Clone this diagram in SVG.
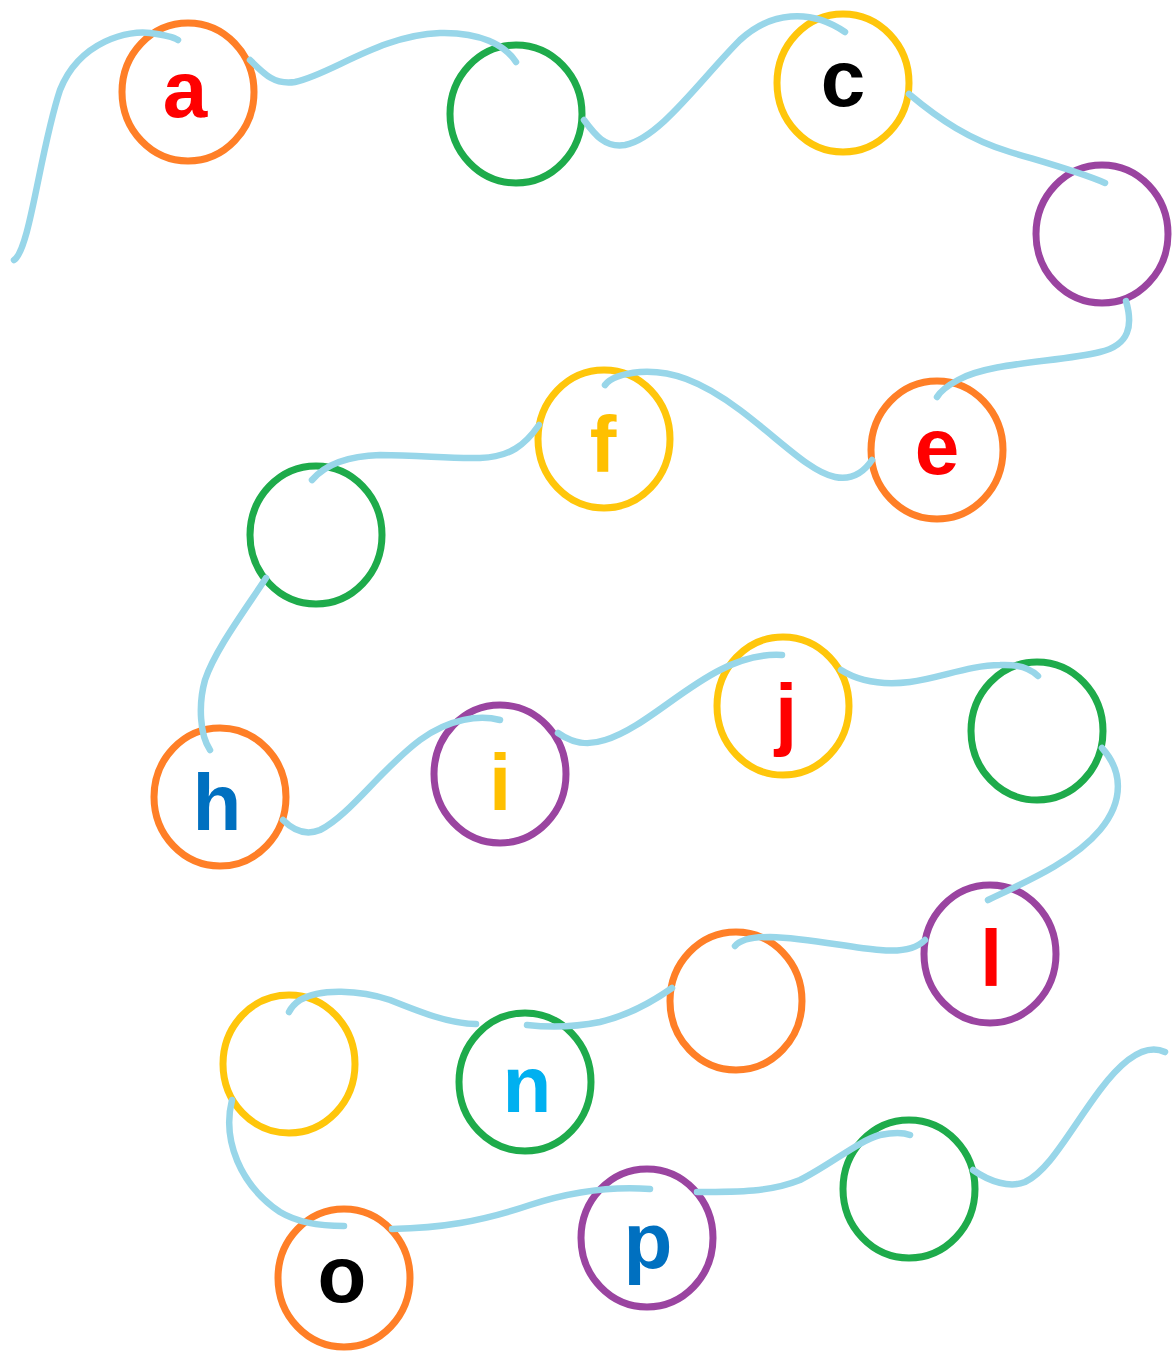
<svg xmlns="http://www.w3.org/2000/svg" width="1173" height="1351" viewBox="0 0 1173 1351">
<style>
.c{fill:#fff;stroke-width:7}
.or{stroke:#FF7F27}.gr{stroke:#1EAB4B}.ye{stroke:#FFC60B}.pu{stroke:#9A44A0}
.t{font-family:"Liberation Sans",Arial,sans-serif;font-weight:bold;font-size:80px;text-anchor:middle}
.w{fill:none;stroke:#98D6E9;stroke-width:6.5;stroke-linecap:round;stroke-linejoin:round}
</style>
<rect width="1173" height="1351" fill="#fff"/>
<g id="nodes">
<g id="a"><ellipse class="c or" cx="188" cy="92" rx="66" ry="69"/><text class="t" x="185" y="117" fill="#FF0000">a</text></g>
<g id="b"><ellipse class="c gr" cx="516" cy="114" rx="66" ry="69"/></g>
<g id="c"><ellipse class="c ye" cx="843" cy="83" rx="66" ry="69"/><text class="t" x="843" y="106" fill="#000">c</text></g>
<g id="d"><ellipse class="c pu" cx="1102" cy="234" rx="66" ry="69"/></g>
<g id="e"><ellipse class="c or" cx="937" cy="450" rx="66" ry="69"/><text class="t" x="937" y="474" fill="#FF0000">e</text></g>
<g id="f"><ellipse class="c ye" cx="604" cy="439" rx="66" ry="69"/><text class="t" x="603" y="472" fill="#FFC000">f</text></g>
<g id="g"><ellipse class="c gr" cx="316" cy="535" rx="66" ry="69"/></g>
<g id="h"><ellipse class="c or" cx="220" cy="797" rx="66" ry="69"/><text class="t" x="217" y="830" fill="#0070C0">h</text></g>
<g id="i"><ellipse class="c pu" cx="500" cy="774" rx="66" ry="69"/><text class="t" x="500" y="810" fill="#FFC000">i</text></g>
<g id="j"><ellipse class="c ye" cx="783" cy="706" rx="66" ry="69"/><text class="t" x="786" y="740" fill="#FF0000">j</text></g>
<g id="k"><ellipse class="c gr" cx="1037" cy="731" rx="66" ry="69"/></g>
<g id="l"><ellipse class="c pu" cx="990" cy="954" rx="66" ry="69"/><text class="t" x="991" y="986" fill="#FF0000">l</text></g>
<g id="m"><ellipse class="c or" cx="736" cy="1001" rx="66" ry="69"/></g>
<g id="n"><ellipse class="c gr" cx="525" cy="1082" rx="66" ry="69"/><text class="t" x="527" y="1112" fill="#00B0F0">n</text></g>
<g id="q"><ellipse class="c ye" cx="289" cy="1064" rx="66" ry="69"/></g>
<g id="o"><ellipse class="c or" cx="344" cy="1278" rx="66" ry="69"/><text class="t" x="342" y="1302" fill="#000">o</text></g>
<g id="p"><ellipse class="c pu" cx="647" cy="1238" rx="66" ry="69"/><text class="t" x="648" y="1268" fill="#0070C0">p</text></g>
<g id="r"><ellipse class="c gr" cx="909" cy="1189" rx="66" ry="69"/></g>
</g>
<g id="connectors">
<path class="w" d="M14,260 C30,250 40,150 60,90 C80,40 130,30 150,33 C165,35 175,38 178,40"/>
<path class="w" d="M250,60 C265,75 275,85 295,82 C330,75 380,35 440,33 C480,32 505,45 516,62"/>
<path class="w" d="M584,120 C595,135 605,148 625,145 C660,138 700,80 740,40 C770,12 810,8 845,32"/>
<path class="w" d="M909,94 C940,120 970,140 1010,152 C1050,164 1080,172 1105,183"/>
<path class="w" d="M1126,301 C1133,325 1130,345 1100,352 C1060,362 990,362 958,380 C945,387 940,392 937,397"/>
<path class="w" d="M872,460 C862,475 850,480 835,477 C810,472 780,440 740,410 C700,380 670,370 640,372 C620,374 610,378 605,385"/>
<path class="w" d="M539,425 C525,445 510,457 480,458 C450,459 420,455 380,455 C345,456 325,465 312,480"/>
<path class="w" d="M266,578 C245,610 215,650 205,680 C198,705 200,735 210,750"/>
<path class="w" d="M283,820 C295,832 308,835 320,830 C350,815 380,770 420,740 C450,718 480,715 500,720"/>
<path class="w" d="M558,733 C575,745 590,745 605,740 C640,730 680,690 720,670 C745,657 765,654 782,655"/>
<path class="w" d="M841,670 C860,682 885,685 910,682 C940,678 970,665 1000,665 C1020,664 1032,670 1038,676"/>
<path class="w" d="M1102,748 C1122,770 1125,800 1100,830 C1075,860 1030,880 988,900"/>
<path class="w" d="M925,940 C915,950 900,952 880,950 C850,948 810,938 770,937 C750,937 740,940 735,946"/>
<path class="w" d="M672,988 C655,1000 630,1015 600,1022 C570,1028 545,1027 527,1025"/>
<path class="w" d="M476,1024 C450,1024 420,1012 390,1000 C360,990 320,988 300,1000 C294,1004 291,1008 289,1012"/>
<path class="w" d="M232,1100 C222,1140 240,1185 280,1212 C300,1224 325,1226 344,1226"/>
<path class="w" d="M392,1229 C440,1228 480,1222 530,1205 C570,1192 610,1186 650,1189"/>
<path class="w" d="M697,1192 C740,1192 770,1192 800,1180 C830,1165 860,1140 880,1135 C895,1132 905,1133 910,1135"/>
<path class="w" d="M973,1170 C990,1182 1010,1188 1025,1182 C1050,1170 1070,1130 1100,1090 C1130,1050 1150,1045 1165,1052"/>
</g>
</svg>
